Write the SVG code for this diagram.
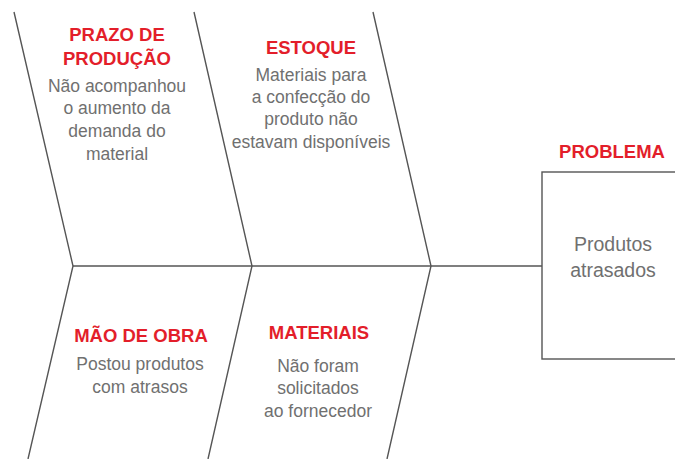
<svg xmlns="http://www.w3.org/2000/svg" width="675" height="459" viewBox="0 0 675 459">
<style>
.ln{stroke:#555;stroke-width:1.4;fill:none}
.h{font-family:"Liberation Sans",Arial,sans-serif;font-weight:bold;font-size:18.5px;fill:#e31e2a;text-anchor:middle}
.t{font-family:"Liberation Sans",Arial,sans-serif;font-size:17.5px;fill:#707070;text-anchor:middle}
.b{font-size:19.5px}
</style>
<rect width="675" height="459" fill="#fff"/>
<g id="connectors">
<path class="ln" d="M73,266 H542"/>
<path class="ln" d="M14,12 L73,266 L28,459"/>
<path class="ln" d="M194,12 L252,266 L208,459"/>
<path class="ln" d="M373,12 L431,266 L387,459"/>
</g>
<g id="prazo">
<text class="h" x="117" y="41">PRAZO DE</text>
<text class="h" x="117" y="65">PRODUÇÃO</text>
<text class="t" x="117" y="92">Não acompanhou</text>
<text class="t" x="117" y="114">o aumento da</text>
<text class="t" x="117" y="137">demanda do</text>
<text class="t" x="117" y="160">material</text>
</g>
<g id="estoque">
<text class="h" x="311" y="54">ESTOQUE</text>
<text class="t" x="311" y="81">Materiais para</text>
<text class="t" x="311" y="103">a confecção do</text>
<text class="t" x="311" y="125">produto não</text>
<text class="t" x="311" y="148">estavam disponíveis</text>
</g>
<g id="maodeobra">
<text class="h" x="141" y="342">MÃO DE OBRA</text>
<text class="t" x="140" y="370">Postou produtos</text>
<text class="t" x="140" y="393">com atrasos</text>
</g>
<g id="materiais">
<text class="h" x="319" y="339">MATERIAIS</text>
<text class="t" x="318" y="372">Não foram</text>
<text class="t" x="318" y="394">solicitados</text>
<text class="t" x="318" y="417">ao fornecedor</text>
</g>
<g id="problema">
<text class="h" x="612" y="158">PROBLEMA</text>
<rect class="ln" x="542" y="172" width="140" height="187"/>
<text class="t b" x="613" y="251">Produtos</text>
<text class="t b" x="613" y="277">atrasados</text>
</g>
</svg>
